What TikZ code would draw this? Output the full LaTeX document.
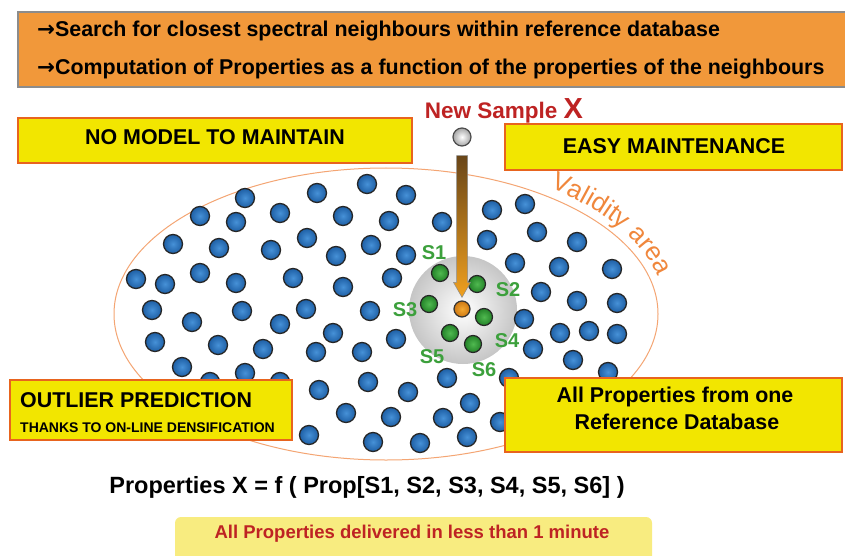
\documentclass[tikz,border=0pt]{standalone}
\usepackage{fontspec}
\setmainfont{Liberation Sans}
\newfontfamily\arrfont{DejaVu Sans}
\usetikzlibrary{decorations.text,calc}
\definecolor{topor}{RGB}{241,152,58}
\definecolor{ybox}{RGB}{242,230,0}
\definecolor{yborder}{RGB}{232,100,30}
\definecolor{ellc}{RGB}{244,165,115}
\definecolor{valtxt}{RGB}{240,135,60}
\definecolor{dred}{RGB}{190,35,35}
\definecolor{sgreen}{RGB}{60,160,60}
\definecolor{lyel}{RGB}{248,236,128}
\definecolor{arrbrown}{RGB}{105,70,25}
\definecolor{arror}{RGB}{240,160,30}
\newcommand\myfs[1]{\fontsize{#1}{#1}\selectfont}
\newcommand\rarr{{\arrfont\bfseries →}}
\tikzset{
  bdot/.style={circle, minimum size=19pt, inner sep=0pt, draw=black!85, line width=1.3pt,
    shading=radial, inner color={rgb,255:red,70;green,145;blue,215}, outer color={rgb,255:red,30;green,95;blue,165}},
  gdot/.style={circle, minimum size=17pt, inner sep=0pt, draw=black!85, line width=1.2pt,
    shading=radial, inner color={rgb,255:red,80;green,185;blue,80}, outer color={rgb,255:red,35;green,130;blue,40}},
  slabel/.style={text=sgreen, font=\myfs{20}\bfseries, inner sep=0pt},
  yboxst/.style={draw=yborder, line width=2.5pt, fill=ybox, inner sep=0pt},
  btxt/.style={font=\myfs{21.4}\bfseries, inner sep=0pt},
}
\begin{document}
\begin{tikzpicture}[x=1pt,y=-1pt]
\useasboundingbox (0,0) rectangle (845,556);
\fill[white] (0,0) rectangle (845,556);
% validity ellipse
\draw[ellc, line width=1pt] (386,314) ellipse [x radius=272, y radius=146];
\begin{scope}[y=1pt]
\path[decorate, decoration={text along path, text color=valtxt,
  text={|\myfs{26}|Validity area}}]
  (550.0,-187.8) arc[start angle=54, end angle=4, x radius=280, y radius=154];
\end{scope}
% neighbourhood sphere
\node (sph) [circle, minimum size=108pt, inner sep=0pt, shading=radial, inner color=white, outer color=gray!45] at (463,310) {};
% blue dots
\foreach \p [count=\i] in {(367,184),(317,193),(245,198),(406,195),(200,216),(236,222),(280,213),(343,216),(389,221),(442,222),
  (492,210),(525,204),(173,244),(219,248),(271,250),(307,238),(371,245),(336,256),(406,255),(487,240),
  (537,232),(577,242),(136,279),(165,284),(200,273),(236,283),(293,278),(392,278),(343,287),(515,263),
  (559,267),(612,269),(541,292),(577,301),(617,303),(152,310),(242,311),(192,322),(280,324),(306,309),
  (370,311),(155,342),(218,345),(263,349),(333,333),(396,339),(316,352),(362,352),(182,367),(245,373),
  (210,382),(280,382),(368,382),(319,390),(408,392),(447,378),(346,413),(391,417),(443,418),(309,435),
  (373,442),(420,443),(467,437),(470,403),(524,319),(560,333),(589,331),(617,334),(533,349),(573,360),
  (608,372),(509,378),(500,422)}
  \node[bdot] (b\i) at \p {};
% green neighbours
\node[gdot] (s1) at (440,273) {};
\node[gdot] (s2) at (477,284) {};
\node[gdot] (s3) at (429,304) {};
\node[gdot] (s4) at (484,317) {};
\node[gdot] (s5) at (450,333) {};
\node[gdot] (s6) at (473,344) {};
\node[slabel] (l1) at (434,253) {S1};
\node[slabel] (l2) at (508,290) {S2};
\node[slabel] (l3) at (405,310) {S3};
\node[slabel] (l4) at (507,341) {S4};
\node[slabel] (l5) at (432,357) {S5};
\node[slabel] (l6) at (484,370) {S6};
% sample and its projection
\node (x) [circle, minimum size=16pt, inner sep=0pt, draw=black!80, line width=1.2pt, shading=radial,
  inner color={rgb,255:red,245;green,170;blue,50}, outer color={rgb,255:red,205;green,120;blue,20}] at (462,309) {};
\node (sample) [circle, minimum size=18pt, inner sep=0pt, draw=black!70, line width=1.2pt, shading=radial,
  inner color=white, outer color=gray!70] at (462,137) {};
\node (newlab) [text=dred, inner sep=0pt, anchor=base] at (504,119) {\myfs{22.5}\bfseries New Sample \myfs{29}X};
\shade[top color=arrbrown, bottom color=arror, draw=black!45, line width=0.5pt]
  let \p1=($(sample.south)+(0,9)$), \p2=($(x.north)+(0,-3)$) in
  (\x1-5.5pt,\y1) -- (\x1+5.5pt,\y1) -- (\x1+5.5pt,\y2+15pt) -- (\x1+8.5pt,\y2+15pt) -- (\x1,\y2)
  -- (\x1-8.5pt,\y2+15pt) -- (\x1-5.5pt,\y2+15pt) -- cycle;
% top orange box
\node (top) [draw=black!45, line width=1.2pt, fill=topor, minimum width=832pt, minimum height=75pt, inner sep=0pt] at (434,49.5) {};
\node (t1) [btxt, anchor=west] at (37,31) {\rarr Search for closest spectral neighbours within reference database};
\node (t2) [btxt, anchor=west] at (37,69) {\rarr Computation of Properties as a function of the properties of the neighbours};
% yellow boxes
\node (nomodel) [yboxst, minimum width=394pt, minimum height=45pt] at (215,140.5) {};
\node (nomodelt) [btxt] at (215,137) {NO MODEL TO MAINTAIN};
\node (easy) [yboxst, minimum width=337pt, minimum height=46pt] at (673.5,147) {};
\node (easyt) [btxt] at (674,146) {EASY MAINTENANCE};
\node (outl) [yboxst, minimum width=282pt, minimum height=60pt] at (151,410) {};
\node (outlt) [btxt, anchor=west] at (20,400) {OUTLIER PREDICTION};
\node (outls) [font=\myfs{14}\bfseries, inner sep=0pt, anchor=west] at (20,428) {THANKS TO ON-LINE DENSIFICATION};
\node (allp) [yboxst, minimum width=337pt, minimum height=74pt] at (673.5,415) {};
\node (allpt1) [btxt] at (675,397) {All Properties from one};
\node (allpt2) [btxt] at (677,422) {Reference Database};
% formula
\node (form) [btxt, font=\myfs{23.5}\bfseries] at (367,487) {Properties X = f ( Prop[S1, S2, S3, S4, S5, S6] )};
% bottom note
\node (note) [fill=lyel, rounded corners=6pt, minimum width=477pt, minimum height=46pt, inner sep=0pt] at (413.5,540) {};
\node (notet) [text=dred, font=\myfs{18.5}\bfseries, inner sep=0pt] at (412,534) {All Properties delivered in less than 1 minute};
\end{tikzpicture}
\end{document}
